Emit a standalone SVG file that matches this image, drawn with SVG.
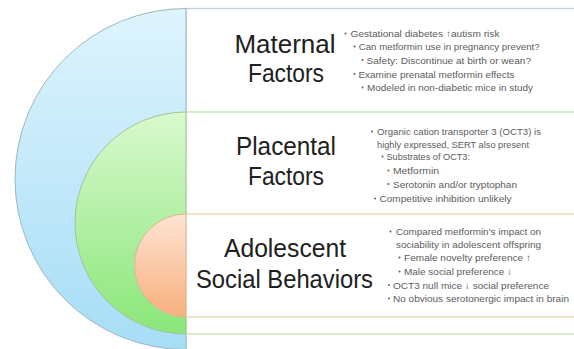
<svg xmlns="http://www.w3.org/2000/svg" width="574" height="349" viewBox="0 0 574 349">
  <defs>
    <linearGradient id="gBlue" x1="0" y1="0" x2="0" y2="1">
      <stop offset="0" stop-color="#def4fd"/>
      <stop offset="1" stop-color="#a6ddf6"/>
    </linearGradient>
    <linearGradient id="gGreen" x1="0" y1="0" x2="0" y2="1">
      <stop offset="0" stop-color="#d9f9ce"/>
      <stop offset="1" stop-color="#8ae679"/>
    </linearGradient>
    <linearGradient id="gOrange" x1="0" y1="0" x2="0" y2="1">
      <stop offset="0" stop-color="#fde4d3"/>
      <stop offset="1" stop-color="#f8af7d"/>
    </linearGradient>
    <style>
      .band { fill: #ffffff; stroke-width: 1.3; }
      .title { font-family: "Liberation Sans", Arial, sans-serif; font-size: 25px; fill: #202020; text-anchor: middle; }
      .item { font-family: "Liberation Sans", "DejaVu Sans", sans-serif; font-size: 9.5px; fill: #5c5c5c; }
      .dot { fill: #5c5c5c; }
    </style>
  </defs>

  <rect width="574" height="349" fill="#ffffff"/>

  <!-- outer level: maternal -->
  <g id="maternal">
    <rect class="band" x="186" y="8.5" width="400" height="345" stroke="#b7d3dc"/>
    <path d="M186,8.5 A171,170.5 0 0 0 186,349.5 Z" fill="url(#gBlue)" stroke="#9db6c1" stroke-width="1"/>
  </g>

  <!-- middle level: placental -->
  <g id="placental">
    <rect class="band" x="186" y="112" width="400" height="222" stroke="#c2e4b4"/>
    <path d="M186,112 A111,111 0 0 0 186,334 Z" fill="url(#gGreen)" stroke="#a6c09d" stroke-width="1"/>
  </g>

  <!-- inner level: adolescent behaviour -->
  <g id="adolescent">
    <rect class="band" x="186" y="214" width="400" height="103" stroke="#e6d8ac"/>
    <path d="M186,214 A51.5,51.5 0 0 0 186,317 Z" fill="url(#gOrange)" stroke="#d8b896" stroke-width="1"/>
  </g>

  <!-- band titles -->
  <g id="titles">
    <text class="title" x="285" y="53" textLength="101" lengthAdjust="spacingAndGlyphs">Maternal</text>
    <text class="title" x="286" y="82" textLength="76" lengthAdjust="spacingAndGlyphs">Factors</text>
    <text class="title" x="286" y="155" textLength="100" lengthAdjust="spacingAndGlyphs">Placental</text>
    <text class="title" x="286" y="185" textLength="76" lengthAdjust="spacingAndGlyphs">Factors</text>
    <text class="title" x="285" y="257" textLength="122" lengthAdjust="spacingAndGlyphs">Adolescent</text>
    <text class="title" x="284.5" y="288" textLength="177" lengthAdjust="spacingAndGlyphs">Social Behaviors</text>
  </g>

  <!-- maternal notes -->
  <g id="maternal-notes">
    <circle class="dot" cx="345.5" cy="33.5" r="1"/>
    <text class="item" x="350.5" y="37" textLength="149" lengthAdjust="spacingAndGlyphs">Gestational diabetes ↑autism risk</text>
    <circle class="dot" cx="354.5" cy="46.5" r="1"/>
    <text class="item" x="358.7" y="50" textLength="181" lengthAdjust="spacingAndGlyphs">Can metformin  use in pregnancy prevent?</text>
    <circle class="dot" cx="362.5" cy="60" r="1"/>
    <text class="item" x="366.5" y="63.5" textLength="164.5" lengthAdjust="spacingAndGlyphs">Safety: Discontinue at birth or wean?</text>
    <circle class="dot" cx="354.5" cy="74" r="1"/>
    <text class="item" x="358.5" y="77.5" textLength="156" lengthAdjust="spacingAndGlyphs">Examine prenatal metformin  effects</text>
    <circle class="dot" cx="362.5" cy="87.5" r="1"/>
    <text class="item" x="367" y="91" textLength="166" lengthAdjust="spacingAndGlyphs">Modeled  in non-diabetic mice in study</text>
  </g>

  <!-- placental notes -->
  <g id="placental-notes">
    <circle class="dot" cx="372" cy="131.5" r="1"/>
    <text class="item" x="377" y="135" textLength="164" lengthAdjust="spacingAndGlyphs">Organic cation transporter  3 (OCT3) is</text>
    <text class="item" x="377" y="147.5" textLength="152" lengthAdjust="spacingAndGlyphs">highly expressed, SERT also present</text>
    <circle class="dot" cx="382.5" cy="156.5" r="1"/>
    <text class="item" x="386.5" y="160" textLength="83.5" lengthAdjust="spacingAndGlyphs">Substrates of OCT3:</text>
    <circle class="dot" cx="388.5" cy="170.5" r="1"/>
    <text class="item" x="393" y="174" textLength="46" lengthAdjust="spacingAndGlyphs">Metformin</text>
    <circle class="dot" cx="388.5" cy="184" r="1"/>
    <text class="item" x="393" y="187.5" textLength="124" lengthAdjust="spacingAndGlyphs">Serotonin  and/or tryptophan</text>
    <circle class="dot" cx="375" cy="198.5" r="1"/>
    <text class="item" x="379.5" y="202" textLength="132" lengthAdjust="spacingAndGlyphs">Competitive  inhibition unlikely</text>
  </g>

  <!-- adolescent notes -->
  <g id="adolescent-notes">
    <circle class="dot" cx="390.5" cy="231.5" r="1"/>
    <text class="item" x="396" y="235" textLength="145" lengthAdjust="spacingAndGlyphs">Compared metformin’s  impact on</text>
    <text class="item" x="396" y="247.5" textLength="145" lengthAdjust="spacingAndGlyphs">sociability in adolescent offspring</text>
    <circle class="dot" cx="399.5" cy="257.5" r="1"/>
    <text class="item" x="404" y="261" textLength="127" lengthAdjust="spacingAndGlyphs">Female novelty preference ↑</text>
    <circle class="dot" cx="399.5" cy="271.5" r="1"/>
    <text class="item" x="404" y="275" textLength="108" lengthAdjust="spacingAndGlyphs">Male social preference ↓</text>
    <circle class="dot" cx="389" cy="285" r="1"/>
    <text class="item" x="393" y="288.5" textLength="156" lengthAdjust="spacingAndGlyphs">OCT3 null mice ↓ social preference</text>
    <circle class="dot" cx="389" cy="298.5" r="1"/>
    <text class="item" x="393" y="302" textLength="176" lengthAdjust="spacingAndGlyphs">No obvious  serotonergic impact in brain</text>
  </g>
</svg>
